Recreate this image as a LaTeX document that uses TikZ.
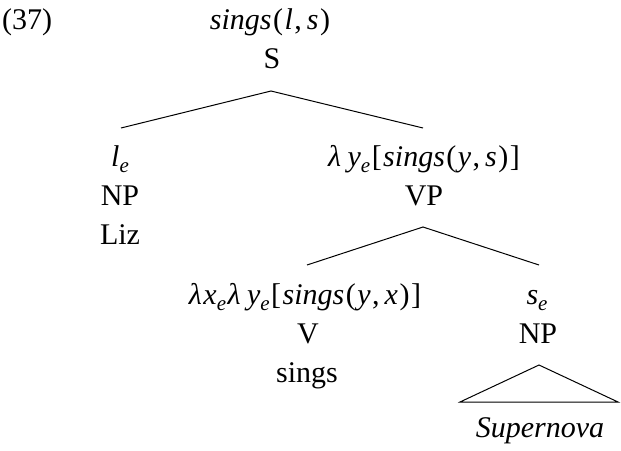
\documentclass[tikz,border=0pt]{standalone}
\usepackage{fontspec}
\setmainfont{Liberation Serif}
\newcommand\sbe[1]{\raisebox{-0.22em}{\fontsize{21}{21}\selectfont\itshape #1}}
\newcommand\lam{\textit{λ}}
\newcommand\kk{\kern1.5pt}
\begin{document}
\begin{tikzpicture}[x=1pt,y=-1pt,
  every node/.style={inner sep=0pt, anchor=base, font=\fontsize{30}{36}\selectfont},
  edge/.style={line width=1pt}]
\useasboundingbox (0,0) rectangle (621,450);
\node[anchor=base west] (ex) at (2,29) {(37)};
\node (Ssem) at (270,29) {\textit{sings}\kk(\kk\textit{l}\kk,\,\textit{s}\kk)};
\node (S) at (272,68) {S};
\coordinate (Sapex) at (271,91);
\coordinate (NPtop) at (121,128);
\coordinate (VPtop) at (423,128);
\node (NPsem) at (120,166) {\textit{l}\sbe{e}};
\node (NP) at (120,205) {NP};
\node (Liz) at (120,244) {Liz};
\node (VPsem) at (424,166) {\lam\kk\,\textit{y}\sbe{e}\kk[\kk\textit{sings}\kk(\kk\textit{y}\kk,\,\textit{s}\kk)\kk]};
\node (VP) at (424,205) {VP};
\coordinate (VPapex) at (423,227);
\coordinate (Vtop) at (307,265);
\coordinate (NP2top) at (539,265);
\node (Vsem) at (305,304) {\lam\kk\textit{x}\sbe{e}\kk\lam\kk\,\textit{y}\sbe{e}\kk[\kk\textit{sings}\kk(\kk\textit{y}\kk,\,\textit{x}\kk)\kk]};
\node (V) at (308,343) {V};
\node (sings) at (307,382) {sings};
\node (NP2sem) at (537,304) {\textit{s}\sbe{e}};
\node (NP2) at (538,343) {NP};
\coordinate (Tapex) at (539,365);
\coordinate (Tl) at (460,402);
\coordinate (Tr) at (618,402);
\node (Sup) at (540,437) {\textit{Supernova}};
\draw[edge] (NPtop) -- (Sapex) -- (VPtop);
\draw[edge] (Vtop) -- (VPapex) -- (NP2top);
\draw[edge] (Tapex) -- (Tl) -- (Tr) -- cycle;
\end{tikzpicture}
\end{document}
